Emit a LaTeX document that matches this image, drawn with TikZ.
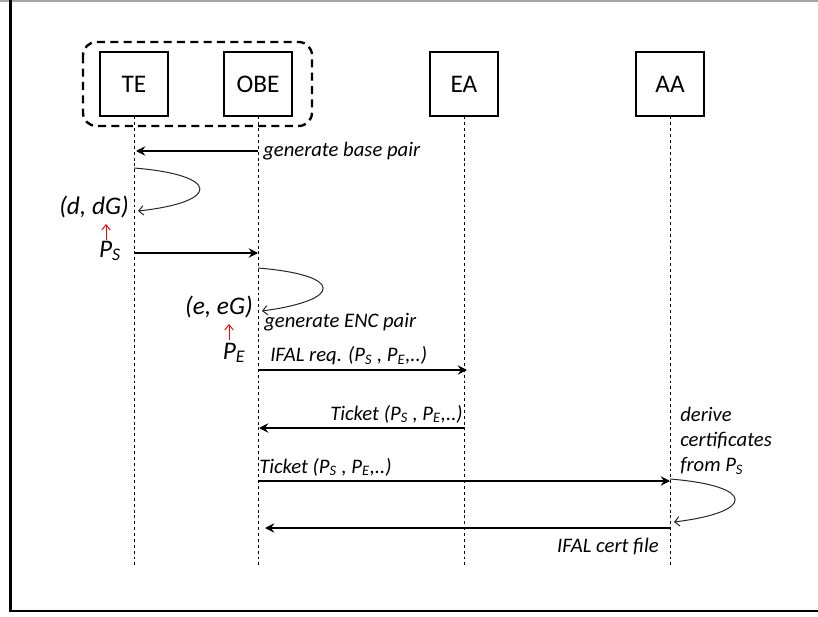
\documentclass[tikz,border=0pt]{standalone}
\usepackage{fontspec}
\setmainfont{Carlito}
\usetikzlibrary{arrows.meta,calc}
\newcommand\mysub[1]{\textsubscript{#1}}
\begin{document}
\begin{tikzpicture}[x=0.75pt,y=-0.75pt,
  actor/.style={draw,line width=0.8pt,minimum width=51pt,minimum height=48pt,font=\fontsize{19}{22}\selectfont,inner sep=0pt},
  life/.style={dash pattern=on 2.2pt off 2.2pt,line width=0.6pt},
  group/.style={line width=1.8pt,dash pattern=on 6pt off 4pt,rounded corners=10pt},
  msg/.style={line width=1pt,-{Stealth[length=7pt,width=7pt,inset=2.5pt]}},
  loopy/.style={line width=0.75pt,draw=black!85,-{Straight Barb[length=3.5pt,width=7pt]}},
  lbl/.style={font=\itshape\fontsize{15.5}{18}\selectfont,inner sep=0pt},
  key/.style={font=\itshape\fontsize{19}{22}\selectfont,inner sep=0pt},
  redar/.style={red,line width=0.7pt,-{Straight Barb[length=4pt,width=6.5pt]}}]

\useasboundingbox (0,0) rectangle (818,617);
% frame
\draw[black!35,line width=1.2pt] (0,1) -- (818,1);
\draw[line width=2pt] (10.5,0) -- (10.5,611) -- (818,611);

% actors
\node[actor] (TE) at (134,84) {TE};
\node[actor] (OBE) at (258,84) {OBE};
\node[actor] (EA) at (464,84) {EA};
\node[actor] (AA) at (670,84) {AA};
\draw[group] (83,42) rectangle (312,126);

% lifelines
\coordinate (TEend) at (134,566);
\coordinate (OBEend) at (258,566);
\coordinate (EAend) at (464,566);
\coordinate (AAend) at (670,566);
\draw[life] (TE) -- (TEend);
\draw[life] (OBE) -- (OBEend);
\draw[life] (EA) -- (EAend);
\draw[life] (AA) -- (AAend);

% generate base pair
\coordinate (m1a) at (258,151); \coordinate (m1b) at (136,151);
\draw[msg] (m1a) -- (m1b);
\node[lbl,anchor=west] (l1) at (263,151) {generate base pair};

% TE self loop
\coordinate (s1a) at (134,168); \coordinate (s1b) at (138,211);
\draw[loopy] (s1a) .. controls (221,175) and (221,202) .. (s1b);
\node[key,anchor=east] (dG) at (129,207) {(d, dG)};
\node[key] (PS) at (110,251) {P\mysub{S}};
\coordinate (r1a) at (106,240); \coordinate (r1b) at (106,224);
\draw[redar] (r1a) -- (r1b);

% PS to OBE
\coordinate (m2a) at (134,253); \coordinate (m2b) at (258,253);
\draw[msg] (m2a) -- (m2b);

% OBE self loop
\coordinate (s2a) at (258,268); \coordinate (s2b) at (262,311);
\draw[loopy] (s2a) .. controls (344,275) and (344,300) .. (s2b);
\node[key,anchor=east] (eG) at (253,307) {(e, eG)};
\node[lbl,anchor=west] (l2) at (264,322) {generate ENC pair};
\node[key] (PE) at (234,353) {P\mysub{E}};
\coordinate (r2a) at (229,340); \coordinate (r2b) at (229,324);
\draw[redar] (r2a) -- (r2b);

% IFAL req
\coordinate (m3a) at (258,370); \coordinate (m3b) at (467,370);
\draw[msg] (m3a) -- (m3b);
\node[lbl,anchor=west] (l3) at (270,356) {IFAL req. (P\mysub{S} , P\mysub{E},..)};

% Ticket EA -> OBE
\coordinate (m4a) at (464,428); \coordinate (m4b) at (259,428);
\draw[msg] (m4a) -- (m4b);
\node[lbl,anchor=east] (l4) at (463,414) {Ticket (P\mysub{S} , P\mysub{E},..)};

% Ticket OBE -> AA
\coordinate (m5a) at (258,481); \coordinate (m5b) at (670,481);
\draw[msg] (m5a) -- (m5b);
\node[lbl,anchor=west] (l5) at (259,467) {Ticket (P\mysub{S} , P\mysub{E},..)};

% derive certificates
\node[lbl,anchor=north west,align=left,font=\itshape\fontsize{15.5}{18.75}\selectfont] (l6) at (680,407) {derive\\certificates\\from P\mysub{S}};

% AA self loop
\coordinate (s3a) at (670,479); \coordinate (s3b) at (674,522);
\draw[loopy] (s3a) .. controls (756,486) and (756,512) .. (s3b);

% IFAL cert file
\coordinate (m6a) at (670,528); \coordinate (m6b) at (265,528);
\draw[msg] (m6a) -- (m6b);
\node[lbl,anchor=east] (l7) at (659,547) {IFAL cert file};
\end{tikzpicture}
\end{document}
